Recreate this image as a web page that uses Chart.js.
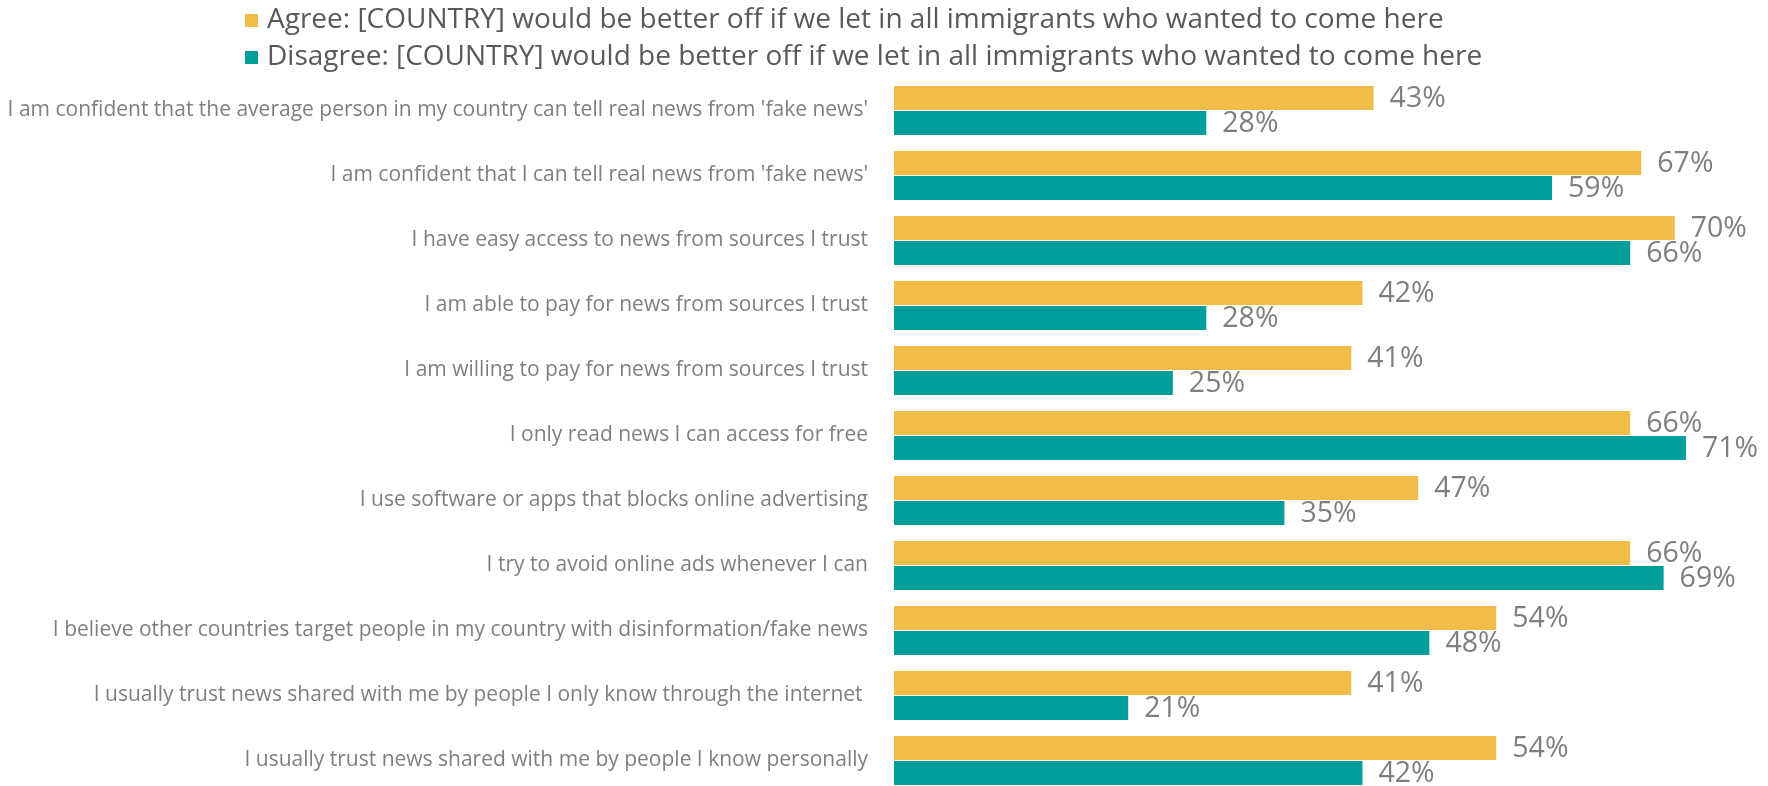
<!DOCTYPE html>
<html lang="en">

<head>
  <meta charset="utf-8">
  <title>News attitudes by immigration view</title>
  <script src="https://cdn.jsdelivr.net/npm/chart.js"></script>
  <style>
    html, body { margin: 0; padding: 0; overflow: hidden; background: #ffffff; }
    canvas { display: block; }
  </style>
</head>

<body>
  <canvas id="graficoNoticias" width="1768" height="800"></canvas>

  <script>
    // Datos
    const categories = [
      "I am confident that the average person in my country can tell real news from 'fake news'",
      "I am confident that I can tell real news from 'fake news'",
      "I have easy access to news from sources I trust",
      "I am able to pay for news from sources I trust",
      "I am willing to pay for news from sources I trust",
      "I only read news I can access for free",
      "I use software or apps that blocks online advertising",
      "I try to avoid online ads whenever I can",
      "I believe other countries target people in my country with disinformation/fake news",
      "I usually trust news shared with me by people I only know through the internet ",
      "I usually trust news shared with me by people I know personally"
    ];
    const seriesNames = [
      "Agree: [COUNTRY] would be better off if we let in all immigrants who wanted to come here",
      "Disagree: [COUNTRY] would be better off if we let in all immigrants who wanted to come here"
    ];
    const agreeValues = [43, 67, 70, 42, 41, 66, 47, 66, 54, 41, 54];
    const disagreeValues = [28, 59, 66, 28, 25, 71, 35, 69, 48, 21, 42];

    const FONT = "'Open Sans', Lato, sans-serif";

    // Etiquetas de valor al final de cada barra
    const valueLabels = {
      id: 'valueLabels',
      afterDatasetsDraw(chart) {
        const ctx = chart.ctx;
        ctx.save();
        ctx.font = "28.5px " + FONT;
        ctx.fillStyle = '#7f7f7f';
        ctx.textAlign = 'left';
        ctx.textBaseline = 'middle';
        chart.data.datasets.forEach((ds, i) => {
          chart.getDatasetMeta(i).data.forEach((bar, j) => {
            ctx.fillText(ds.data[j] + '%', bar.x + 16, bar.y + 1);
          });
        });
        ctx.restore();
      }
    };

    // Leyenda en dos líneas alineadas a la izquierda
    const legendLines = {
      id: 'legendLines',
      afterDraw(chart) {
        const ctx = chart.ctx;
        ctx.save();
        ctx.font = "28px " + FONT;
        ctx.textAlign = 'left';
        ctx.textBaseline = 'middle';
        chart.data.datasets.forEach((ds, i) => {
          const cy = 20 + i * 37;
          ctx.fillStyle = ds.backgroundColor;
          ctx.fillRect(245, cy - 6, 13, 13);
          ctx.fillStyle = '#595959';
          ctx.fillText(ds.label, 267, cy);
        });
        ctx.restore();
      }
    };

    new Chart(document.getElementById('graficoNoticias'), {
      type: 'bar',
      data: {
        labels: categories,
        datasets: [{
          label: seriesNames[0],
          data: agreeValues,
          backgroundColor: '#f1bd49',
          categoryPercentage: 0.77,
          barPercentage: 0.96
        }, {
          label: seriesNames[1],
          data: disagreeValues,
          backgroundColor: '#009e9b',
          categoryPercentage: 0.77,
          barPercentage: 0.96
        }]
      },
      options: {
        indexAxis: 'y',
        responsive: false,
        animation: false,
        layout: {
          padding: { top: 78, bottom: 7, right: 4, left: 0 }
        },
        plugins: {
          legend: { display: false },
          tooltip: { enabled: false }
        },
        scales: {
          x: {
            display: false,
            min: 0,
            max: 78
          },
          y: {
            grid: { display: false, drawTicks: false },
            border: { display: false },
            ticks: {
              autoSkip: false,
              padding: 26,
              color: '#7f7f7f',
              font: { family: FONT, size: 21 }
            },
            afterFit(scale) {
              scale.width = 894;
              scale.paddingTop = 0;
              scale.paddingBottom = 0;
            }
          }
        }
      },
      plugins: [valueLabels, legendLines]
    });
  </script>
</body>

</html>
